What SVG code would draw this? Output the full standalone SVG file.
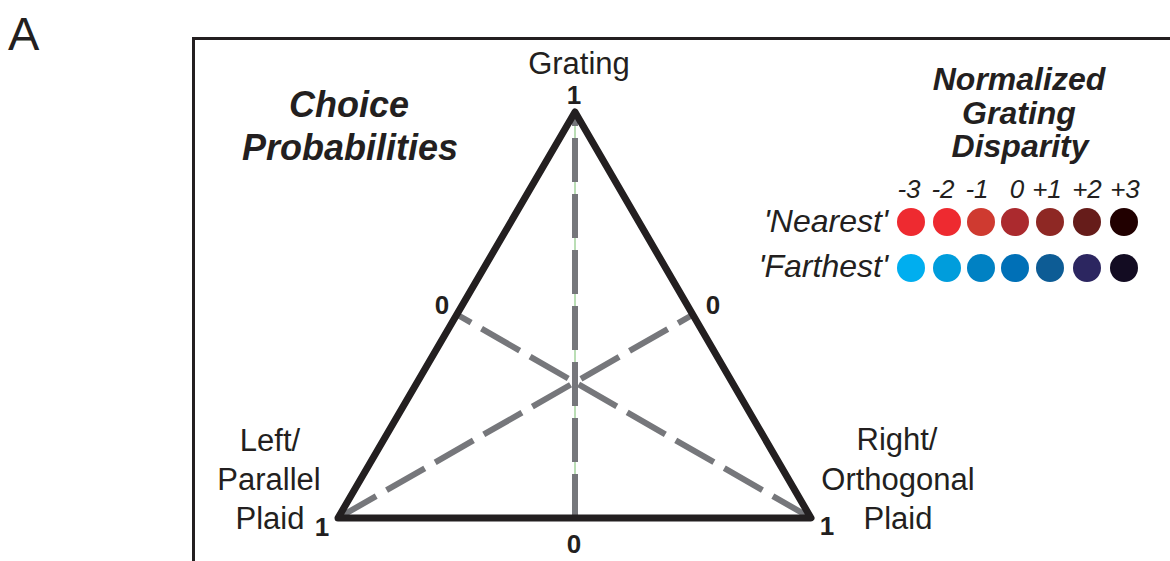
<svg xmlns="http://www.w3.org/2000/svg" width="1170" height="561" viewBox="0 0 1170 561">
<style>
text{font-family:"Liberation Sans",Arial,sans-serif;fill:#231f20}
.lbl{font-size:31px}
.num{font-size:26px;font-weight:bold}
.title{font-weight:bold;font-style:italic;text-anchor:middle}
.dash{stroke:#76777b;stroke-width:6;stroke-dasharray:44 12;fill:none}
.leg{font-size:26px;font-style:italic;text-anchor:middle}
.row{font-size:32px;font-style:italic;text-anchor:end}
</style>
<rect width="1170" height="561" fill="#fff"/>
<text x="8" y="50" style="font-size:47px">A</text>
<path id="frame" d="M193.5 561V38.5H1170" fill="none" stroke="#231f20" stroke-width="3"/>
<g id="connectors">
<line x1="575" y1="114" x2="575" y2="518" stroke="#a3d39c" stroke-width="1.5"/>
<line class="dash" x1="575" y1="518" x2="575" y2="112"/>
<line class="dash" x1="338" y1="518" x2="694" y2="314"/>
<line class="dash" x1="811" y1="518" x2="456" y2="314"/>
</g>
<g id="triangle">
<path d="M575 112L811 518H338Z" fill="none" stroke="#231f20" stroke-width="7" stroke-linejoin="round"/>
</g>
<g id="node-grating">
<text class="lbl" x="579" y="74" text-anchor="middle">Grating</text>
<text class="num" x="574" y="104" text-anchor="middle">1</text>
</g>
<g id="ticks">
<text class="num" x="442" y="314" text-anchor="middle">0</text>
<text class="num" x="713" y="314" text-anchor="middle">0</text>
<text class="num" x="574" y="553" text-anchor="middle">0</text>
</g>
<g id="node-left">
<text class="lbl" x="270" y="451" text-anchor="middle">Left/</text>
<text class="lbl" x="269" y="490" text-anchor="middle">Parallel</text>
<text class="lbl" x="270" y="529" text-anchor="middle">Plaid</text>
<text class="num" x="322" y="536" text-anchor="middle">1</text>
</g>
<g id="node-right">
<text class="lbl" x="897" y="450" text-anchor="middle">Right/</text>
<text class="lbl" x="898" y="490" text-anchor="middle">Orthogonal</text>
<text class="lbl" x="898" y="529" text-anchor="middle">Plaid</text>
<text class="num" x="827" y="535" text-anchor="middle">1</text>
</g>
<g id="title">
<text class="title" x="349" y="117" style="font-size:36px">Choice</text>
<text class="title" x="350" y="160" style="font-size:36px">Probabilities</text>
</g>
<g id="legend">
<text class="title" x="1019" y="90" style="font-size:32px">Normalized</text>
<text class="title" x="1019" y="124" style="font-size:32px">Grating</text>
<text class="title" x="1020" y="157" style="font-size:32px">Disparity</text>
<text class="leg" x="909" y="198">-3</text>
<text class="leg" x="943" y="198">-2</text>
<text class="leg" x="977" y="198">-1</text>
<text class="leg" x="1017" y="198">0</text>
<text class="leg" x="1047" y="198">+1</text>
<text class="leg" x="1087" y="198">+2</text>
<text class="leg" x="1125" y="198">+3</text>
<text class="row" x="888" y="232">'Nearest'</text>
<text class="row" x="888" y="277">'Farthest'</text>
<g id="nearest">
<circle cx="911" cy="222" r="14" fill="#ee2a30"/>
<circle cx="947" cy="222" r="14" fill="#ee2a30"/>
<circle cx="981" cy="222" r="14" fill="#cf3a30"/>
<circle cx="1015" cy="222" r="14" fill="#ab2a2e"/>
<circle cx="1050" cy="222" r="14" fill="#8e2824"/>
<circle cx="1087" cy="222" r="14" fill="#661c1a"/>
<circle cx="1124" cy="222" r="14" fill="#210000"/>
</g>
<g id="farthest">
<circle cx="911" cy="268" r="14" fill="#00aeef"/>
<circle cx="947" cy="268" r="14" fill="#009ddc"/>
<circle cx="981" cy="268" r="14" fill="#0081c3"/>
<circle cx="1015" cy="268" r="14" fill="#0070b7"/>
<circle cx="1050" cy="268" r="14" fill="#0d5c95"/>
<circle cx="1087" cy="268" r="14" fill="#2c2660"/>
<circle cx="1124" cy="268" r="14" fill="#130c22"/>
</g>
</g>
</svg>
